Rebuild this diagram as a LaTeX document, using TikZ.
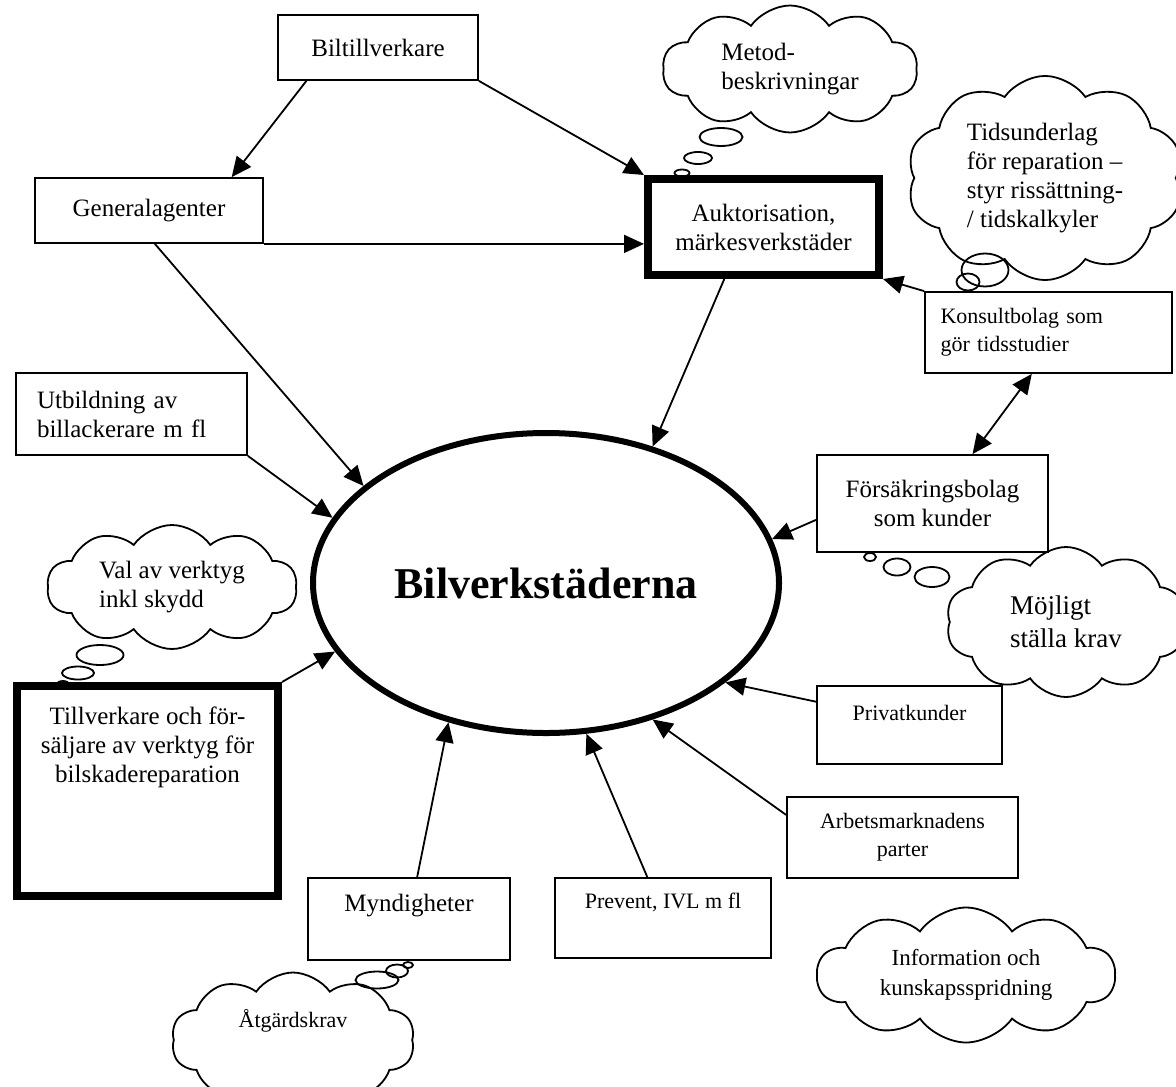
\documentclass[tikz,border=0pt]{standalone}
\usepackage{fontspec}
\setmainfont{Liberation Serif}
\usetikzlibrary{arrows.meta,shapes.geometric,shapes.symbols}
\newcommand\txtmain{\fontsize{12.5}{14.5}\selectfont}
\newcommand\txtsmall{\fontsize{11}{14}\selectfont}

\begin{document}
\begin{tikzpicture}[x=0.5pt,y=0.5pt,yscale=-1,
	>={Triangle[length=10pt,width=9pt]},
	box/.style={draw, line width=0.9pt, align=center, inner sep=3pt, font=\txtmain},
	thickbox/.style={box, line width=4pt},
	smallbox/.style={box, font=\txtsmall},
	thought/.style={draw, line width=0.9pt, cloud, cloud puffs=10, cloud puff arc=110, cloud ignores aspect, align=left, font=\txtmain},
	bubble/.style={draw, line width=0.9pt},
	conn/.style={line width=0.9pt, ->},
	]
	\useasboundingbox (0,0) rectangle (1176,1086);
	
	%Shape: Ellipse (centre)
	\node [draw, ellipse, line width=3pt, minimum width=233pt, minimum height=150pt, font=\fontsize{22}{26}\selectfont\bfseries] (bilverk) at (546,583) {Bilverkstäderna};
	
	%Shape: Rectangle
	\node [box, minimum width=100pt, minimum height=32.5pt] (biltill) at (378,47.5) {Biltillverkare};
	\node [box, minimum width=114pt, minimum height=32.5pt] (genag) at (149,210.5) {Generalagenter};
	\node [thickbox, minimum width=115.5pt, minimum height=48pt] (auktor) at (763.5,227) {Auktorisation,\\märkesverkstäder};
	\node [smallbox, align=left, text width=108pt, minimum width=123.5pt, minimum height=40.5pt] (konsult) at (1048.5,332.5) {Konsultbolag som\\gör tidsstudier};
	\node [box, minimum width=115.5pt, minimum height=48.5pt] (forsak) at (932.5,503.5) {Försäkringsbolag\\som kunder};
	\node [box, align=left, text width=94.5pt, minimum width=115.5pt, minimum height=41pt] (utbild) at (131.5,414) {Utbildning av\\billackerare m fl};
	\node [thickbox, minimum width=130.5pt, minimum height=105pt, text depth=46pt] (tillverk) at (147.5,791) {Tillverkare och för-\\säljare av verktyg för\\bilskadereparation};
	\node [box, minimum width=101pt, minimum height=41pt, text depth=16pt] (myndig) at (409,919) {Myndigheter};
	\node [smallbox, minimum width=108pt, minimum height=40pt, text depth=17pt] (prevent) at (663,918) {Prevent, IVL m fl};
	\node [smallbox, minimum width=115.5pt, minimum height=40.5pt] (arbmark) at (902.5,837.5) {Arbetsmarknadens\\parter};
	\node [smallbox, minimum width=92.5pt, minimum height=39pt, text depth=12pt] (privat) at (909.5,725) {Privatkunder};
	
	%Shape: Cloud
	\node [thought, minimum width=127.5pt, minimum height=63.5pt] (metod) at (790,69) {Metod-\\beskrivningar};
	\node [thought, minimum width=138pt, minimum height=86pt] (tidsund) at (1045,178) {Tidsunderlag\\för reparation –\\styr rissättning-\\/ tidskalkyler};
	\node [thought, font=\fontsize{13.5}{16.5}\selectfont, minimum width=120pt, minimum height=75pt] (mojligt) at (1066,622) {Möjligt\\ställa krav};
	\node [thought, minimum width=125pt, minimum height=62pt] (valverk) at (172,587) {Val av verktyg\\inkl skydd};
	\node [thought, font=\txtsmall, minimum width=121.5pt, minimum height=67.5pt, text depth=22pt] (atgard) at (293,1040) {Åtgärdskrav};
	\node [thought, font=\fontsize{11.5}{15}\selectfont, align=center, minimum width=149pt, minimum height=67.5pt] (inform) at (966,975) {Information och\\kunskapsspridning};
	
	%Shape: thought bubbles
	\draw [bubble] (721,137) ellipse [x radius=10.75pt, y radius=4.5pt];
	\draw [bubble] (698,158) ellipse [x radius=7pt, y radius=3pt];
	\draw [bubble] (682,173) ellipse [x radius=3.75pt, y radius=1.75pt];
	\draw [bubble] (985,270) ellipse [x radius=11.75pt, y radius=8.25pt];
	\draw [bubble] (968,282) ellipse [x radius=5.75pt, y radius=4.25pt];
	\draw [bubble] (870,557) ellipse [x radius=3pt, y radius=2pt];
	\draw [bubble] (897,567) ellipse [x radius=6.75pt, y radius=4.25pt];
	\draw [bubble] (932,577) ellipse [x radius=8.75pt, y radius=5pt];
	\draw [bubble] (100,655) ellipse [x radius=11.75pt, y radius=5pt];
	\draw [bubble] (78,673) ellipse [x radius=8pt, y radius=3.25pt];
	\draw [bubble] (63,684) ellipse [x radius=3pt, y radius=1.5pt];
	\draw [bubble] (377,980) ellipse [x radius=10.75pt, y radius=4.25pt];
	\draw [bubble] (397,971) ellipse [x radius=5.5pt, y radius=3.25pt];
	\draw [bubble] (408,965) ellipse [x radius=2.5pt, y radius=1.5pt];
	
	%Straight Lines
	\draw [conn] (biltill.-155) -- (genag.22);
	\draw [conn] (biltill.south east) -- (auktor.north west);
	\draw [conn] (genag.south east) -- (genag.south east -| auktor.west);
	\draw [conn] (genag.-80) -- (bilverk.152);
	\draw [conn] (auktor.-127) -- (bilverk.52);
	\draw [conn] (konsult.north west) -- (auktor.south east);
	\draw [conn, <->] (konsult.-112) -- (forsak.51);
	\draw [conn] (forsak.188) -- (bilverk.11);
	\draw [conn] (privat.166) -- (bilverk.-29);
	\draw [conn] (arbmark.169) -- (bilverk.-52);
	\draw [conn] (prevent.111) -- (bilverk.-75);
	\draw [conn] (myndig.79) -- (bilverk.-125);
	\draw [conn] (tillverk.north east) -- (bilverk.198);
	\draw [conn] (utbild.south east) -- (bilverk.163);
	
\end{tikzpicture}
\end{document}
